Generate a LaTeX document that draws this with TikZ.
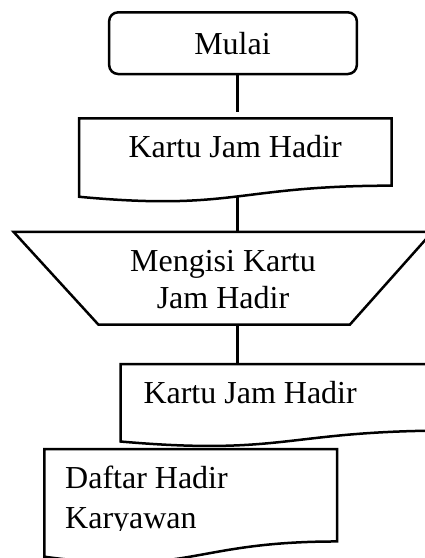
\documentclass[tikz,border=0pt]{standalone}
\usepackage{fontspec}
\setmainfont{Liberation Serif}
% document symbol: left, top, width, height
\newcommand\docsymbol[4]{%
  (#1,#2) -- ({#1+#3},#2) -- ({#1+#3},{#2+0.802*#4})
  .. controls ({#1+0.5*#3},{#2+0.802*#4}) and ({#1+0.5*#3},{#2+1.1075*#4})
  .. (#1,{#2+0.934*#4}) -- cycle}
\begin{document}
\begin{tikzpicture}[x=1pt,y=-1pt,
  outline/.style={draw=black, line width=2.5pt, line join=miter},
  conn/.style={draw=black, line width=2.6pt},
  label/.style={inner sep=0pt, font=\fontsize{32}{37}\selectfont},
]
\useasboundingbox (0,0) rectangle (424,558);

% start terminal
\node[outline, rounded corners=9pt, minimum width=247.7pt, minimum height=61.7pt,
      inner sep=0pt] (mulai) at (233,43.15) {};
\node[label, anchor=base] (mulai-text) at (232.5,54) {Mulai};

% first document
\path[outline] \docsymbol{79}{118.3}{312.7}{84};
\node[label, anchor=base west] (doc1) at (128.3,157.3) {Kartu Jam Hadir};
\coordinate (doc1-top) at (237.3,112);
\coordinate (doc1-bottom) at (237.3,196);

% manual operation
\path[outline] (13.5,231.8) -- (432.5,231.8) -- (350,324.5) -- (98.3,324.5) -- cycle;
\node[label, align=center, anchor=base] (isi) at (223,308) {Mengisi Kartu\\Jam Hadir};
\coordinate (isi-top) at (237.3,231.8);
\coordinate (isi-bottom) at (237.3,324.5);

% second document
\path[outline] \docsymbol{120.7}{364}{330}{83};
\node[label, anchor=base west] (doc2) at (143.3,403.3) {Kartu Jam Hadir};
\coordinate (doc2-top) at (237.3,364);

% attendance list document
\path[outline] \docsymbol{44.3}{449}{292.7}{115.3};
\begin{scope}
  \clip (44.3,449) rectangle (336,530);
  \node[label, align=left, anchor=base west,
        font=\fontsize{32}{40}\selectfont] (daftar) at (65,528.3) {Daftar Hadir\\Karyawan};
\end{scope}

% flow lines
\draw[conn] (mulai.south -| doc1-top) -- (doc1-top);
\draw[conn] (doc1-bottom) -- (isi-top);
\draw[conn] (isi-bottom) -- (doc2-top);
\end{tikzpicture}
\end{document}
